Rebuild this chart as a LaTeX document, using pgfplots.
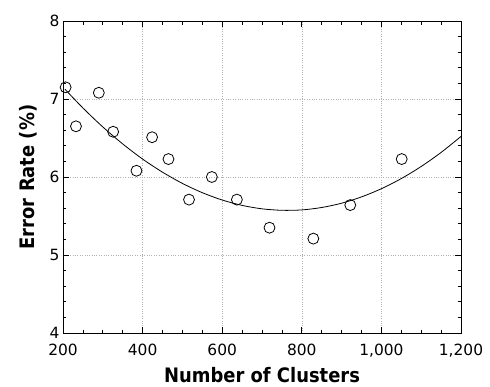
\documentclass[border=0pt]{standalone}
\usepackage{pgfplots}
\pgfplotsset{compat=1.18}
\usepackage{fontspec}
\setmainfont{DejaVu Sans}
\newfontfamily\labelfont[FakeStretch=0.9]{DejaVu Sans}
\begin{document}
\begin{tikzpicture}
\begin{axis}[
  at={(0,0)}, anchor=south west,
  width=398bp, height=312bp, scale only axis,
  xmin=200, xmax=1200, ymin=4, ymax=8,
  xtick={200,400,...,1200}, ytick={4,5,6,7,8},
  minor x tick num=3, minor y tick num=4,
  tick align=inside,
  major tick length=6bp, minor tick length=3.5bp,
  grid=major, major grid style={dotted, gray!60, line width=0.6pt},
  axis line style={line width=1pt},
  every tick/.style={black, line width=0.8pt},
  ticklabel style={font=\fontsize{15.5}{18}\selectfont},
  /pgf/number format/assume math mode=true,
  /pgf/number format/1000 sep={,},
  xticklabel style={yshift=-8bp},
  xlabel={Number of Clusters}, ylabel={Error Rate (\%)},
  label style={font=\labelfont\bfseries\fontsize{20}{24}\selectfont},
  xlabel style={at={(axis description cs:0.5,-0.160)}, anchor=base},
  ylabel style={at={(axis description cs:-0.0704,0.5)}, anchor=base},
]
\addplot[only marks, mark=o, mark size=5.5pt, black, line width=0.8pt] coordinates {
(206.6,7.15) (232.6,6.65) (290,7.08) (326,6.58) (384.6,6.08) (423.9,6.51)
(465,6.23) (516.6,5.71) (574,6.00) (636.9,5.71) (718.8,5.35) (829,5.21)
(921.8,5.64) (1051,6.23)
};
\addplot[smooth, black, line width=0.8pt] coordinates {
(205,7.125) (250,6.885) (300,6.642) (350,6.424) (400,6.230) (450,6.062)
(500,5.918) (550,5.799) (600,5.705) (650,5.636) (700,5.592) (750,5.573)
(800,5.578) (850,5.609) (900,5.664) (950,5.745) (1000,5.850) (1050,5.980)
(1100,6.135) (1150,6.315) (1200,6.520)
};
\end{axis}
\pgfresetboundingbox
\path[use as bounding box] (-63bp,-54bp) rectangle (427bp,333bp);
\end{tikzpicture}
\end{document}
